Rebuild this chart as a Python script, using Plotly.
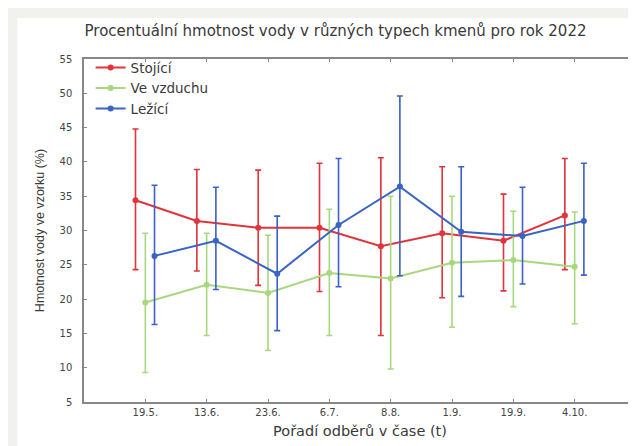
import numpy as np
import plotly.graph_objects as go

categories = ["19.5.", "13.6.", "23.6.", "6.7.", "8.8.", "1.9.", "19.9.", "4.10."]

stojici_mean = [34.4, 31.4, 30.4, 30.4, 27.7, 29.6, 28.5, 32.2]
stojici_upper = [44.8, 38.9, 38.8, 39.8, 40.6, 39.3, 35.3, 40.5]
stojici_lower = [24.3, 24.1, 22.0, 21.1, 14.7, 20.2, 21.2, 24.3]

vzduch_mean = [19.5, 22.1, 20.9, 23.8, 23.0, 25.3, 25.7, 24.7]
vzduch_upper = [29.6, 29.6, 29.3, 33.1, 35.0, 35.0, 32.8, 32.7]
vzduch_lower = [9.3, 14.7, 12.5, 14.7, 9.8, 15.9, 18.9, 16.4]

lezici_mean = [26.3, 28.5, 23.7, 30.8, 36.4, 29.8, 29.2, 31.4]
lezici_upper = [36.6, 36.3, 32.1, 40.5, 49.6, 39.3, 36.3, 39.8]
lezici_lower = [16.3, 21.4, 15.4, 21.8, 23.4, 20.4, 22.2, 23.5]

series = [
    ("Stojící", stojici_mean, stojici_upper, stojici_lower, "#e0343a", -0.16),
    ("Ve vzduchu", vzduch_mean, vzduch_upper, vzduch_lower, "#a9d77e", 0.0),
    ("Ležící", lezici_mean, lezici_upper, lezici_lower, "#3a63c4", 0.15),
]

fig = go.Figure()
idx = np.arange(len(categories))
for name, m, up, lo, col, off in series:
    m = np.array(m); up = np.array(up); lo = np.array(lo)
    fig.add_trace(go.Scatter(
        x=idx + off, y=m, name=name, mode="lines+markers",
        line=dict(color=col, width=2),
        marker=dict(color=col, size=6, symbol="circle"),
        error_y=dict(type="data", symmetric=False, array=up - m, arrayminus=m - lo,
                     color=col, thickness=1.6, width=3),
    ))

wide = "DejaVu Sans, Verdana, sans-serif"
txt = "#3a3a3a"
axis_font = dict(family=wide, size=10, color="#444")
fig.update_layout(
    width=636, height=446,
    margin=dict(l=76, r=6, t=51, b=52),
    paper_bgcolor="#f1f1ee",
    plot_bgcolor="white",
    font=dict(family=wide, color=txt),
    title=dict(text="Procentuální hmotnost vody v různých typech kmenů pro rok 2022",
               x=0.515, xanchor="center", y=0.95, yanchor="middle",
               font=dict(family=wide, size=15, color=txt)),
    showlegend=True,
    legend=dict(x=0.012, y=1.02, xanchor="left", yanchor="top",
                bgcolor="rgba(0,0,0,0)", font=dict(family=wide, size=13.5, color=txt),
                tracegroupgap=0, itemwidth=30),
    shapes=[dict(type="rect", xref="paper", yref="paper",
                 x0=-0.121, x1=1.05, y0=-0.3, y1=1.1195,
                 fillcolor="white", line=dict(width=0), layer="below")],
)
fig.update_xaxes(
    range=[-1, 8], tickmode="array", tickvals=idx, ticktext=categories,
    showgrid=False, zeroline=False, showline=True, linecolor="#888", linewidth=1.5,
    mirror="ticks", ticks="inside", ticklen=3, tickcolor="#888",
    tickfont=axis_font,
    title=dict(text="Pořadí odběrů v čase (t)", font=dict(family=wide, size=14.5, color=txt), standoff=9),
)
fig.update_yaxes(
    range=[5, 55], tickmode="array", tickvals=list(range(5, 56, 5)),
    showgrid=False, zeroline=False, showline=True, linecolor="#888", linewidth=1.5,
    mirror="ticks", ticks="inside", ticklen=3, tickcolor="#888",
    tickfont=axis_font, ticklabelstandoff=8,
    title=dict(text="Hmotnost vody ve vzorku (%)",
               font=dict(family="Liberation Sans, Arial, sans-serif", size=12.5, color=txt),
               standoff=12),
)
fig.write_html("out.html")
